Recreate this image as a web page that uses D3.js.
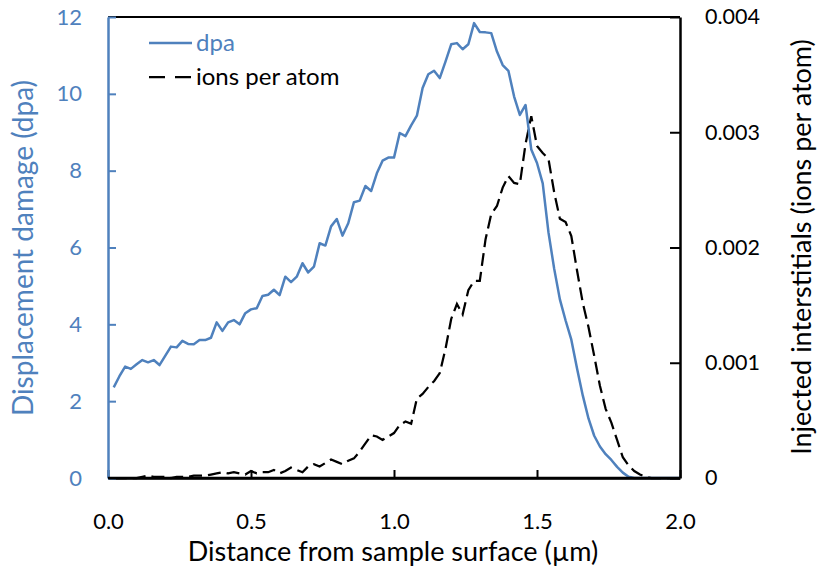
<!DOCTYPE html>
<html>
<head>
<meta charset="utf-8">
<script src="https://cdn.jsdelivr.net/npm/d3@7"></script>
<style>
  body { margin: 0; background: #fff; }
  svg text { font-family: Lato, "Open Sans", sans-serif; }
</style>
</head>
<body>
<div id="chart"></div>
<script>
// depth below the surface (um), one value every 0.02
var depth = d3.range(1, 101).map(function(i) { return +(i * 0.02).toFixed(2); });

var dpa = [
  2.36, 2.65, 2.90, 2.84, 2.96, 3.07, 3.01, 3.07, 2.94, 3.18,
  3.42, 3.40, 3.57, 3.49, 3.48, 3.59, 3.59, 3.65, 4.05, 3.83,
  4.05, 4.11, 4.00, 4.29, 4.39, 4.42, 4.74, 4.77, 4.90, 4.76,
  5.24, 5.10, 5.24, 5.59, 5.35, 5.50, 6.11, 6.05, 6.55, 6.74,
  6.31, 6.63, 7.18, 7.22, 7.60, 7.47, 7.93, 8.26, 8.34, 8.34,
  8.98, 8.90, 9.18, 9.43, 10.15, 10.51, 10.60, 10.41, 10.84, 11.29,
  11.32, 11.16, 11.29, 11.84, 11.61, 11.60, 11.58, 11.10, 10.75, 10.60,
  9.93, 9.45, 9.71, 8.55, 8.20, 7.67, 6.40, 5.45, 4.65, 4.10,
  3.60, 2.85, 2.15, 1.55, 1.10, 0.82, 0.62, 0.47, 0.29, 0.14,
  0.03, 0, 0, 0, 0, 0, 0, 0, 0, 0
];

var ionsPerAtom = [
  0, 0, 0, 0, 0, 0.00001, 0.00002, 0.00001, 0.00001, 0.00001,
  0, 0.00001, 0.00001, 0.00001, 0.00002, 0.00002, 0.00002, 0.00003, 0.00004, 0.00005,
  0.00004, 0.00005, 0.00004, 0.00003, 0.00006, 0.00004, 0.00005, 0.00005, 0.00007, 0.00004,
  0.00006, 0.00009, 0.00007, 0.00005, 0.00010, 0.00012, 0.00010, 0.00013, 0.00016, 0.00014,
  0.00012, 0.00015, 0.00017, 0.00023, 0.00030, 0.00037, 0.00036, 0.00033, 0.00036, 0.00039,
  0.00046, 0.00049, 0.00047, 0.00069, 0.00073, 0.00079, 0.00084, 0.00091, 0.00112, 0.00138,
  0.00151, 0.00142, 0.00163, 0.00171, 0.00171, 0.00207, 0.00229, 0.00236, 0.00252, 0.00262,
  0.00256, 0.00255, 0.00290, 0.00314, 0.00288, 0.00282, 0.00277, 0.00248, 0.00225, 0.00222,
  0.00210, 0.00180, 0.00152, 0.00131, 0.00106, 0.00080, 0.00060, 0.00048, 0.00033, 0.00018,
  0.00011, 0.00006, 0.00003, 0.00001, 0, 0, 0, 0, 0, 0
];

var xTicks = [0, 0.5, 1.0, 1.5, 2.0];
var dpaTicks = [0, 2, 4, 6, 8, 10, 12];
var ionTicks = [0, 0.001, 0.002, 0.003, 0.004];

var blue = "#4f81bd";

var margin = {top: 17, left: 108, right: 137, bottom: 93},
    width  = 817 - margin.left - margin.right,
    height = 571 - margin.top  - margin.bottom;

var x  = d3.scaleLinear().domain([0, 2]).range([0, width]),
    yL = d3.scaleLinear().domain([0, 12]).range([height, 0]),
    yR = d3.scaleLinear().domain([0, 0.004]).range([height, 0]);

var svg = d3.select("#chart").append("svg")
    .attr("width", 817)
    .attr("height", 571);

var g = svg.append("g").attr("transform", "translate(" + margin.left + "," + margin.top + ")");

// lines first, axes drawn on top like excel does
var lineDpa = d3.line()
    .x(function(d, i) { return x(depth[i]); })
    .y(function(d) { return yL(d); });

var lineIons = d3.line()
    .x(function(d, i) { return x(depth[i]); })
    .y(function(d) { return yR(d); });

g.append("path")
  .datum(ionsPerAtom)
  .attr("fill", "none")
  .attr("stroke", "#000")
  .attr("stroke-width", 2.25)
  .attr("stroke-dasharray", "13,6")
  .attr("d", lineIons);

g.append("path")
  .datum(dpa)
  .attr("fill", "none")
  .attr("stroke", blue)
  .attr("stroke-width", 2.5)
  .attr("stroke-linejoin", "round")
  .attr("d", lineDpa);

// top border
g.append("line")
  .attr("x1", 0).attr("x2", width)
  .attr("y1", 0).attr("y2", 0)
  .attr("stroke", "#000").attr("stroke-width", 2);

// x axis
var gx = g.append("g")
  .attr("transform", "translate(0," + height + ")")
  .call(d3.axisBottom(x).tickValues(xTicks).tickSizeInner(-8).tickSizeOuter(0)
    .tickFormat(d3.format(".1f")).tickPadding(35));
gx.select(".domain").attr("stroke", "#000").attr("stroke-width", 2.5);
gx.selectAll(".tick line").attr("stroke", "#000").attr("stroke-width", 2);
gx.selectAll("text").attr("fill", "#000").style("font-size", "22px");

// left axis
var gl = g.append("g")
  .call(d3.axisLeft(yL).tickValues(dpaTicks).tickSizeInner(-8).tickSizeOuter(0).tickPadding(26));
gl.select(".domain").attr("stroke", blue).attr("stroke-width", 2.5);
gl.selectAll(".tick line").attr("stroke", blue).attr("stroke-width", 2);
gl.selectAll("text").attr("fill", blue).style("font-size", "22px");

// right axis
var gr = g.append("g")
  .attr("transform", "translate(" + width + ",0)")
  .call(d3.axisRight(yR).tickValues(ionTicks).tickSizeInner(-10).tickSizeOuter(0).tickPadding(25)
    .tickFormat(function(d) { return d === 0 ? "0" : d3.format(".3f")(d); }));
gr.select(".domain").attr("stroke", "#000").attr("stroke-width", 2.5);
gr.selectAll(".tick line").attr("stroke", "#000").attr("stroke-width", 2);
gr.selectAll("text").attr("fill", "#000").style("font-size", "21.5px");

// bottom axis line over the lines at zero
g.append("line")
  .attr("x1", 0).attr("x2", width)
  .attr("y1", height).attr("y2", height)
  .attr("stroke", "#000").attr("stroke-width", 2.5);

// axis titles
svg.append("text")
  .attr("x", 393)
  .attr("y", 561)
  .attr("text-anchor", "middle")
  .style("font-size", "27px")
  .attr("fill", "#000")
  .text("Distance from sample surface (\u00b5m)");

svg.append("text")
  .attr("transform", "translate(33,248) rotate(-90)")
  .attr("text-anchor", "middle")
  .style("font-size", "28px")
  .attr("fill", blue)
  .text("Displacement damage (dpa)");

svg.append("text")
  .attr("transform", "translate(811,247) rotate(-90)")
  .attr("text-anchor", "middle")
  .style("font-size", "27px")
  .attr("fill", "#000")
  .text("Injected interstitials (ions per atom)");

// legend
var legend = g.append("g").attr("transform", "translate(41,26)");
var items = [
  {name: "dpa", color: blue, dash: null, w: 2.5},
  {name: "ions per atom", color: "#000", dash: "16,10", w: 2.25}
];
items.forEach(function(d, i) {
  var row = legend.append("g").attr("transform", "translate(0," + (i * 34) + ")");
  row.append("line")
    .attr("x1", 0).attr("x2", 43)
    .attr("stroke", d.color).attr("stroke-width", d.w)
    .attr("stroke-dasharray", d.dash);
  row.append("text")
    .attr("x", 47).attr("y", 8)
    .attr("fill", d.color)
    .style("font-size", "24px")
    .text(d.name);
});
</script>
</body>
</html>
